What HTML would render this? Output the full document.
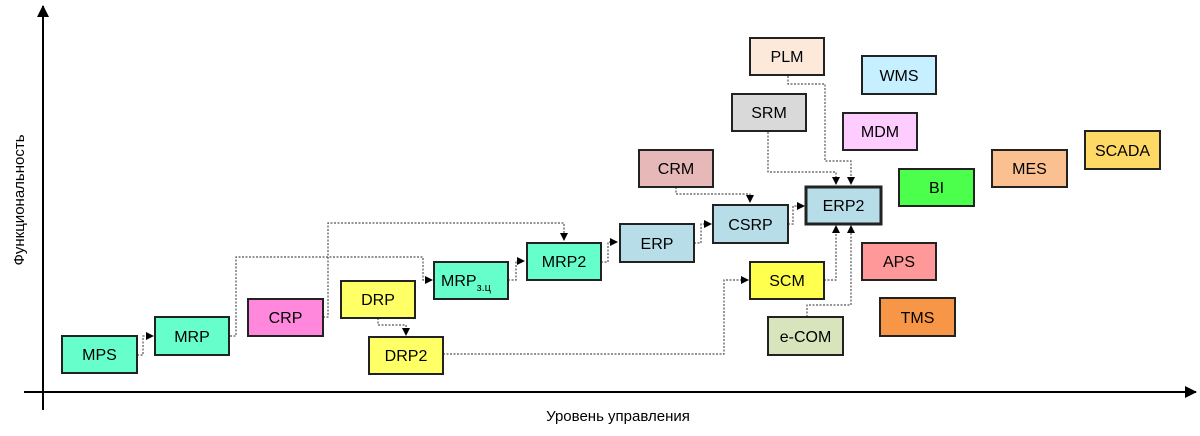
<!DOCTYPE html>
<html><head><meta charset="utf-8"><style>
html,body{margin:0;padding:0;background:#fff;}
svg{display:block;font-family:"Liberation Sans",sans-serif;}
</style></head><body>
<svg width="1200" height="436" viewBox="0 0 1200 436" xmlns="http://www.w3.org/2000/svg">
<defs>
<marker id="a" markerWidth="8" markerHeight="8" refX="7" refY="4" orient="auto" markerUnits="userSpaceOnUse">
<path d="M0,0 L8,4 L0,8 z" fill="#000"/></marker>
<marker id="big" markerWidth="12" markerHeight="12" refX="11" refY="6" orient="auto" markerUnits="userSpaceOnUse">
<path d="M0,0 L12,6 L0,12 z" fill="#000"/></marker>
</defs>
<line x1="43" y1="410" x2="43" y2="6" stroke="#000" stroke-width="2" marker-end="url(#big)"/>
<line x1="24" y1="392" x2="1196" y2="392" stroke="#000" stroke-width="2" marker-end="url(#big)"/>
<text x="20" y="200" font-size="15" text-anchor="middle" transform="rotate(-90 20 200)" dominant-baseline="middle">Функциональность</text>
<text x="618" y="421" font-size="15" text-anchor="middle">Уровень управления</text>

<g fill="none" stroke="#555" stroke-width="1.2" stroke-dasharray="2,1.5">
<path d="M137,355 H143 V336 H153" marker-end="url(#a)"/>
<path d="M230,336 H236 V257 H423 V280 H432" marker-end="url(#a)"/>
<path d="M323,317 H328 V223 H564 V240" marker-end="url(#a)"/>
<path d="M378,318 V325 H406 V335" marker-end="url(#a)"/>
<path d="M443,354 H724 V280 H748" marker-end="url(#a)"/>
<path d="M508,280 H516 V261 H524" marker-end="url(#a)"/>
<path d="M601,262 H608 V242 H617" marker-end="url(#a)"/>
<path d="M694,243 H701 V224 H711" marker-end="url(#a)"/>
<path d="M788,224 H793 V206 H804" marker-end="url(#a)"/>
<path d="M676,187 V194 H750 V202" marker-end="url(#a)"/>
<path d="M768,132 V172 H836 V184" marker-end="url(#a)"/>
<path d="M788,76 V84 H825 V161 H851 V184" marker-end="url(#a)"/>
<path d="M824,280 H836 V226" marker-end="url(#a)"/>
<path d="M807,317 V305 H851 V226" marker-end="url(#a)"/>
</g>

<g stroke="#222" stroke-width="2" font-size="16" text-anchor="middle">
<rect x="62" y="336" width="75" height="37" fill="#66ffcc"/><text x="99.5" y="360" stroke="none">MPS</text>
<rect x="155" y="317" width="74" height="38" fill="#66ffcc"/><text x="192" y="342" stroke="none">MRP</text>
<rect x="248" y="299" width="75" height="37" fill="#ff88dd"/><text x="285.5" y="323" stroke="none">CRP</text>
<rect x="341" y="281" width="74" height="37" fill="#ffff66"/><text x="378" y="305" stroke="none">DRP</text>
<rect x="369" y="337" width="74" height="37" fill="#ffff66"/><text x="406" y="361" stroke="none">DRP2</text>
<rect x="434" y="262" width="74" height="37" fill="#66ffcc"/><text x="466" y="286" stroke="none">MRP<tspan font-size="11" dy="5">з.ц</tspan></text>
<rect x="527" y="243" width="74" height="37" fill="#66ffcc"/><text x="564" y="267" stroke="none">MRP2</text>
<rect x="620" y="224" width="74" height="38" fill="#b7dde8"/><text x="657" y="249" stroke="none">ERP</text>
<rect x="713" y="205" width="75" height="38" fill="#b7dde8"/><text x="750.5" y="230" stroke="none">CSRP</text>
<rect x="806" y="187" width="75" height="37" fill="#b7dde8" stroke-width="3"/><text x="843.5" y="211" stroke="none">ERP2</text>
<rect x="639" y="150" width="74" height="37" fill="#e6b9b8"/><text x="676" y="174" stroke="none">CRM</text>
<rect x="732" y="94" width="74" height="37" fill="#d9d9d9"/><text x="769" y="118" stroke="none">SRM</text>
<rect x="750" y="38" width="74" height="37" fill="#fde9d9"/><text x="787" y="62" stroke="none">PLM</text>
<rect x="862" y="56" width="74" height="38" fill="#c6efff"/><text x="899" y="81" stroke="none">WMS</text>
<rect x="843" y="113" width="74" height="37" fill="#ffccff"/><text x="880" y="137" stroke="none">MDM</text>
<rect x="899" y="169" width="75" height="37" fill="#4cff4c"/><text x="936.5" y="193" stroke="none">BI</text>
<rect x="992" y="150" width="75" height="37" fill="#fac090"/><text x="1029.5" y="174" stroke="none">MES</text>
<rect x="1085" y="131" width="75" height="38" fill="#ffd966"/><text x="1122.5" y="156" stroke="none">SCADA</text>
<rect x="862" y="243" width="74" height="37" fill="#ff9999"/><text x="899" y="267" stroke="none">APS</text>
<rect x="750" y="262" width="74" height="37" fill="#ffff4d"/><text x="787" y="286" stroke="none">SCM</text>
<rect x="880" y="298" width="75" height="38" fill="#f79646"/><text x="917.5" y="323" stroke="none">TMS</text>
<rect x="768" y="317" width="75" height="38" fill="#d7e4bc"/><text x="805.5" y="342" stroke="none">e-COM</text>
</g>
</svg>
</body></html>
